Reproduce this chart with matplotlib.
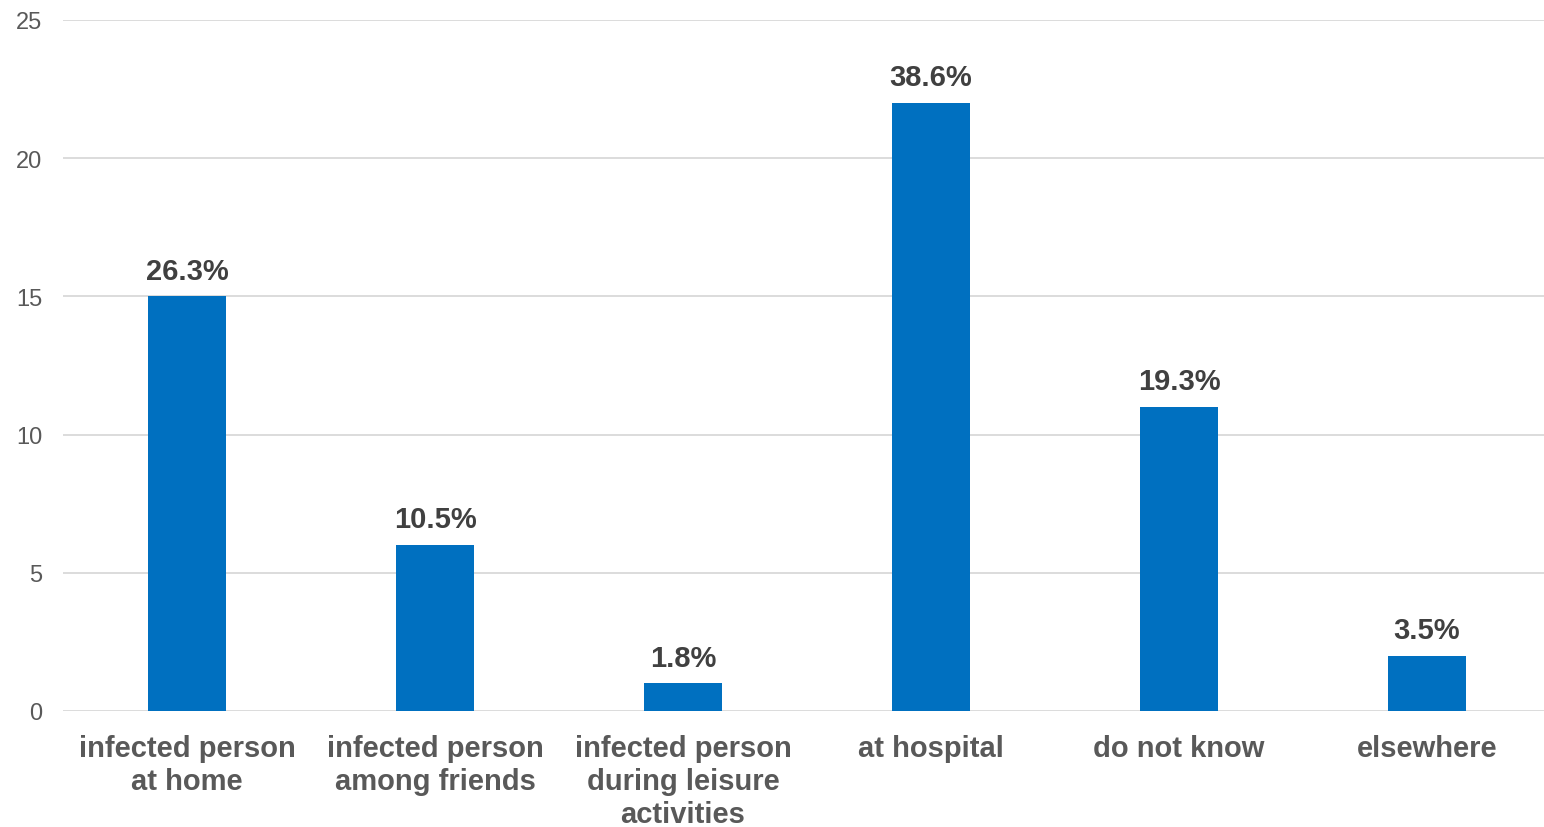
import matplotlib.pyplot as plt

categories = ['infected person\nat home', 'infected person\namong friends',
              'infected person\nduring leisure\nactivities', 'at hospital',
              'do not know', 'elsewhere']
counts = [15, 6, 1, 22, 11, 2]
percents = ['26.3%', '10.5%', '1.8%', '38.6%', '19.3%', '3.5%']
yticks = [0, 5, 10, 15, 20, 25]

plt.rcParams['font.family'] = ['Liberation Sans', 'DejaVu Sans']

fig = plt.figure(figsize=(15.44, 8.28), dpi=100)
ax = fig.add_axes([63 / 1544, 1 - 712 / 828, 1 - 63 / 1544, (712 - 21) / 828])

x = list(range(len(categories)))
bars = ax.bar(x, counts, width=0.315, color='#0070c0', zorder=3)

for b, p in zip(bars, percents):
    ax.annotate(p, (b.get_x() + b.get_width() / 2, b.get_height()),
                xytext=(0, 8.5), textcoords='offset points', ha='center', va='bottom',
                fontsize=21, fontweight='bold', color='#404040')

ax.set_xlim(-0.5, 5 + (1544 - 1427) / 248)
ax.set_ylim(0, 25)
ax.set_yticks(yticks)
ax.set_xticks(x)
ax.set_xticklabels(categories, fontsize=21, fontweight='bold', color='#595959',
                   linespacing=1.22)
ax.tick_params(axis='y', labelsize=17, labelcolor='#595959', length=0, pad=15)
ax.tick_params(axis='x', length=0, pad=16.5)

ax.grid(axis='y', color='#d9d9d9', linewidth=1.3, zorder=0)
for s in ax.spines.values():
    s.set_visible(False)

fig.savefig('out.png', dpi=100)
